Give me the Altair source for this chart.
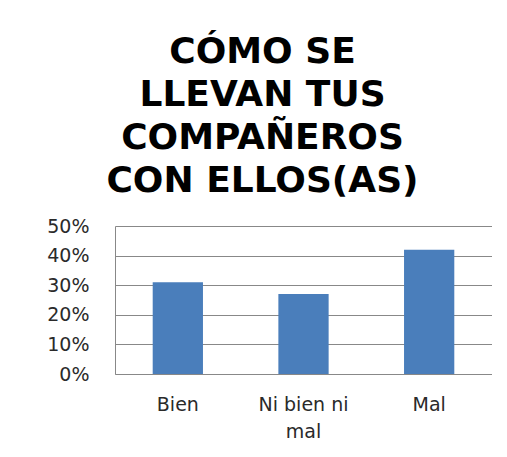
import altair as alt
import pandas as pd

categories = ["Bien", "Ni bien ni mal", "Mal"]
values = [0.31, 0.27, 0.42]
y_ticks = [0, 0.1, 0.2, 0.3, 0.4, 0.5]
title_lines = ["CÓMO SE", "LLEVAN TUS", "COMPAÑEROS", "CON ELLOS(AS)"]

df = pd.DataFrame({"cat": categories, "val": values})

label_expr = "datum.value == 'Ni bien ni mal' ? ['Ni bien ni', 'mal'] : datum.value"

chart = alt.Chart(df).mark_bar(color="#4A7EBB").encode(
    x=alt.X("cat:N", sort=categories, title=None,
            scale=alt.Scale(paddingInner=0.6, paddingOuter=0.3),
            axis=alt.Axis(labelAngle=0, labelExpr=label_expr, labelFont="DejaVu Sans",
                          labelFontSize=19, labelColor="#2a2a2a", labelPadding=21,
                          ticks=False, domainColor="#888", labelLineHeight=27)),
    y=alt.Y("val:Q", title=None,
            scale=alt.Scale(domain=[0, 0.5]),
            axis=alt.Axis(format="%", values=y_ticks,
                          labelFont="DejaVu Sans", labelFontSize=19, labelColor="#2a2a2a",
                          labelPadding=26, ticks=False, domainColor="#888",
                          gridColor="#888", gridOpacity=1)),
).properties(
    width=377, height=148,
    title=alt.TitleParams(title_lines,
                          font="DejaVu Sans", fontSize=36, fontWeight="bold",
                          lineHeight=43, color="#000", anchor="middle", offset=17,
                          dx=-41),
    padding={"left": 107, "top": 218, "right": 0, "bottom": 75},
    autosize=alt.AutoSizeParams(type="none"),
).configure_view(stroke=None)

chart.save("out.html", embed_options={"renderer": "svg", "actions": False})
